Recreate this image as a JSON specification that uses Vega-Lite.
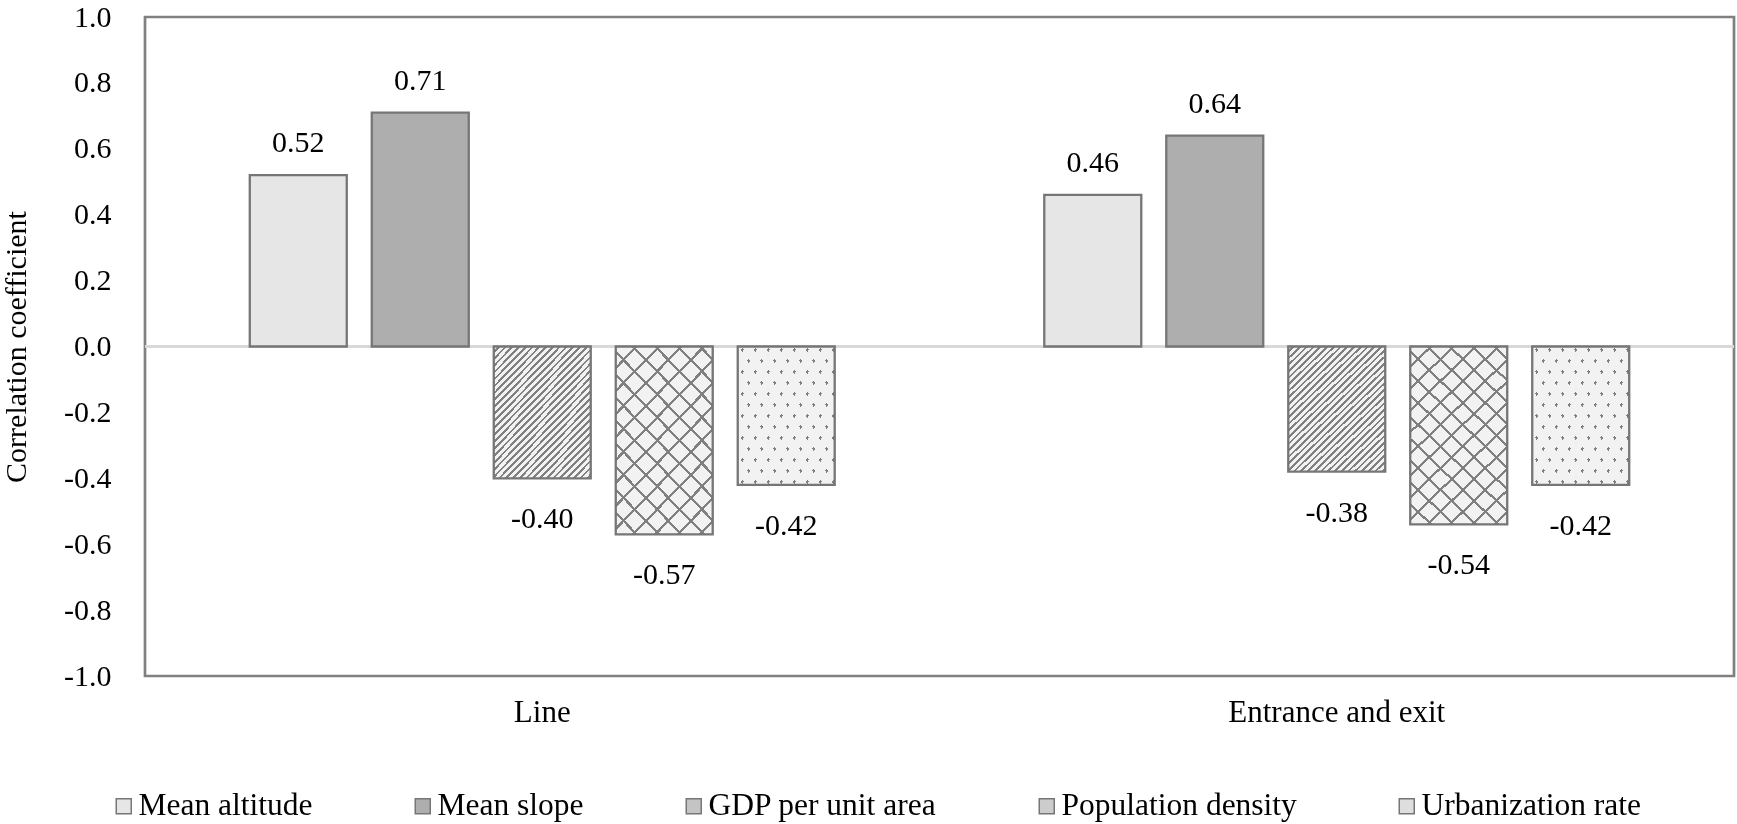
{
 "$schema": "https://vega.github.io/schema/vega-lite/v6.json",
 "width": 1589,
 "height": 659,
 "autosize": {"type": "none"},
 "padding": {"left": 145, "top": 17, "right": 3, "bottom": 148},
 "background": "white",
 "config": {
  "font": "Liberation Serif",
  "view": {"stroke": "#808080", "strokeWidth": 2.7},
  "locale": {"number": {"decimal": ".", "thousands": ",", "grouping": [3], "currency": ["$", ""], "minus": "-"}},
  "axis": {"labelFont": "Liberation Serif", "titleFont": "Liberation Serif", "labelColor": "#000000", "titleColor": "#000000"},
  "legend": {"labelFont": "Liberation Serif", "labelColor": "#000000"}
 },
 "data": {"values": [
  {"group": "Line", "measure": "Mean altitude", "value": 0.52},
  {"group": "Line", "measure": "Mean slope", "value": 0.71},
  {"group": "Line", "measure": "GDP per unit area", "value": -0.40},
  {"group": "Line", "measure": "Population density", "value": -0.57},
  {"group": "Line", "measure": "Urbanization rate", "value": -0.42},
  {"group": "Entrance and exit", "measure": "Mean altitude", "value": 0.46},
  {"group": "Entrance and exit", "measure": "Mean slope", "value": 0.64},
  {"group": "Entrance and exit", "measure": "GDP per unit area", "value": -0.38},
  {"group": "Entrance and exit", "measure": "Population density", "value": -0.54},
  {"group": "Entrance and exit", "measure": "Urbanization rate", "value": -0.42}
 ]},
 "layer": [
  {
   "mark": {"type": "rule", "color": "#d9d9d9", "strokeWidth": 2.5},
   "encoding": {"y": {"datum": 0, "type": "quantitative", "scale": {"domain": [-1, 1], "nice": false}}}
  },
  {
   "encoding": {
    "x": {"field": "group", "type": "nominal", "scale": {"domain": ["Line", "Entrance and exit"], "paddingInner": 0, "paddingOuter": 0},
     "axis": {"title": null, "labelAngle": 0, "labelFontSize": 31, "labelPadding": 21, "labelLimit": 0, "ticks": false, "tickSize": 0, "domain": false, "labelColor": "#000000"}},
    "xOffset": {"field": "measure", "type": "nominal", "scale": {"domain": ["Mean altitude", "Mean slope", "GDP per unit area", "Population density", "Urbanization rate"], "paddingInner": 0.205, "paddingOuter": 0.859}},
    "y": {"field": "value", "type": "quantitative", "scale": {"domain": [-1, 1], "nice": false},
     "axis": {"title": "Correlation coefficient", "values": [-1, -0.8, -0.6, -0.4, -0.2, 0, 0.2, 0.4, 0.6, 0.8, 1], "format": ".1f", "grid": false, "domain": false, "ticks": false, "tickSize": 0, "labelPadding": 34, "labelFontSize": 30, "titleFontSize": 30, "titleFontWeight": "normal", "titleX": -120, "titleY": 329.5, "titleAngle": -90, "titleBaseline": "alphabetic", "titleAlign": "center"}}
   },
   "layer": [
    {
     "mark": {"type": "bar"},
     "encoding": {"color": {"field": "measure", "type": "nominal",
      "scale": {"domain": ["Mean altitude", "Mean slope", "GDP per unit area", "Population density", "Urbanization rate"], "range": ["#e6e6e6", "#aeaeae", "#c4c4c4", "#cccccc", "#dedede"]},
      "legend": {"orient": "none", "legendX": -37, "legendY": 773, "direction": "horizontal", "columns": 5, "title": null, "symbolType": "square", "symbolSize": 225, "symbolStrokeColor": "#767676", "symbolStrokeWidth": 1.5, "labelFontSize": 31.5, "labelOffset": -1, "labelLimit": 0, "columnPadding": 94, "padding": 0, "symbolOpacity": 1}}}
    },
    {
     "transform": [{"filter": "datum.measure === 'GDP per unit area'"}],
     "mark": {"type": "bar", "fill": {"gradient": "linear", "x1": 0, "y1": 0, "x2": 0.8437, "y2": 1.1179, "stops": [
      {"offset": 0, "color": "#f2f2f2"},
      {"offset": 0.018, "color": "#f2f2f2"}, {"offset": 0.018, "color": "#808080"}, {"offset": 0.03, "color": "#808080"}, {"offset": 0.03, "color": "#f2f2f2"},
      {"offset": 0.048, "color": "#f2f2f2"}, {"offset": 0.048, "color": "#808080"}, {"offset": 0.06, "color": "#808080"}, {"offset": 0.06, "color": "#f2f2f2"},
      {"offset": 0.078, "color": "#f2f2f2"}, {"offset": 0.078, "color": "#808080"}, {"offset": 0.09, "color": "#808080"}, {"offset": 0.09, "color": "#f2f2f2"},
      {"offset": 0.108, "color": "#f2f2f2"}, {"offset": 0.108, "color": "#808080"}, {"offset": 0.12, "color": "#808080"}, {"offset": 0.12, "color": "#f2f2f2"},
      {"offset": 0.138, "color": "#f2f2f2"}, {"offset": 0.138, "color": "#808080"}, {"offset": 0.15, "color": "#808080"}, {"offset": 0.15, "color": "#f2f2f2"},
      {"offset": 0.168, "color": "#f2f2f2"}, {"offset": 0.168, "color": "#808080"}, {"offset": 0.18, "color": "#808080"}, {"offset": 0.18, "color": "#f2f2f2"},
      {"offset": 0.198, "color": "#f2f2f2"}, {"offset": 0.198, "color": "#808080"}, {"offset": 0.21, "color": "#808080"}, {"offset": 0.21, "color": "#f2f2f2"},
      {"offset": 0.228, "color": "#f2f2f2"}, {"offset": 0.228, "color": "#808080"}, {"offset": 0.24, "color": "#808080"}, {"offset": 0.24, "color": "#f2f2f2"},
      {"offset": 0.258, "color": "#f2f2f2"}, {"offset": 0.258, "color": "#808080"}, {"offset": 0.27, "color": "#808080"}, {"offset": 0.27, "color": "#f2f2f2"},
      {"offset": 0.288, "color": "#f2f2f2"}, {"offset": 0.288, "color": "#808080"}, {"offset": 0.30, "color": "#808080"}, {"offset": 0.30, "color": "#f2f2f2"},
      {"offset": 0.318, "color": "#f2f2f2"}, {"offset": 0.318, "color": "#808080"}, {"offset": 0.33, "color": "#808080"}, {"offset": 0.33, "color": "#f2f2f2"},
      {"offset": 0.348, "color": "#f2f2f2"}, {"offset": 0.348, "color": "#808080"}, {"offset": 0.36, "color": "#808080"}, {"offset": 0.36, "color": "#f2f2f2"},
      {"offset": 0.378, "color": "#f2f2f2"}, {"offset": 0.378, "color": "#808080"}, {"offset": 0.39, "color": "#808080"}, {"offset": 0.39, "color": "#f2f2f2"},
      {"offset": 0.408, "color": "#f2f2f2"}, {"offset": 0.408, "color": "#808080"}, {"offset": 0.42, "color": "#808080"}, {"offset": 0.42, "color": "#f2f2f2"},
      {"offset": 0.438, "color": "#f2f2f2"}, {"offset": 0.438, "color": "#808080"}, {"offset": 0.45, "color": "#808080"}, {"offset": 0.45, "color": "#f2f2f2"},
      {"offset": 0.468, "color": "#f2f2f2"}, {"offset": 0.468, "color": "#808080"}, {"offset": 0.48, "color": "#808080"}, {"offset": 0.48, "color": "#f2f2f2"},
      {"offset": 0.498, "color": "#f2f2f2"}, {"offset": 0.498, "color": "#808080"}, {"offset": 0.51, "color": "#808080"}, {"offset": 0.51, "color": "#f2f2f2"},
      {"offset": 0.528, "color": "#f2f2f2"}, {"offset": 0.528, "color": "#808080"}, {"offset": 0.54, "color": "#808080"}, {"offset": 0.54, "color": "#f2f2f2"},
      {"offset": 0.558, "color": "#f2f2f2"}, {"offset": 0.558, "color": "#808080"}, {"offset": 0.57, "color": "#808080"}, {"offset": 0.57, "color": "#f2f2f2"},
      {"offset": 0.588, "color": "#f2f2f2"}, {"offset": 0.588, "color": "#808080"}, {"offset": 0.60, "color": "#808080"}, {"offset": 0.60, "color": "#f2f2f2"},
      {"offset": 0.618, "color": "#f2f2f2"}, {"offset": 0.618, "color": "#808080"}, {"offset": 0.63, "color": "#808080"}, {"offset": 0.63, "color": "#f2f2f2"},
      {"offset": 0.648, "color": "#f2f2f2"}, {"offset": 0.648, "color": "#808080"}, {"offset": 0.66, "color": "#808080"}, {"offset": 0.66, "color": "#f2f2f2"},
      {"offset": 0.678, "color": "#f2f2f2"}, {"offset": 0.678, "color": "#808080"}, {"offset": 0.69, "color": "#808080"}, {"offset": 0.69, "color": "#f2f2f2"},
      {"offset": 0.708, "color": "#f2f2f2"}, {"offset": 0.708, "color": "#808080"}, {"offset": 0.72, "color": "#808080"}, {"offset": 0.72, "color": "#f2f2f2"},
      {"offset": 0.738, "color": "#f2f2f2"}, {"offset": 0.738, "color": "#808080"}, {"offset": 0.75, "color": "#808080"}, {"offset": 0.75, "color": "#f2f2f2"},
      {"offset": 0.768, "color": "#f2f2f2"}, {"offset": 0.768, "color": "#808080"}, {"offset": 0.78, "color": "#808080"}, {"offset": 0.78, "color": "#f2f2f2"},
      {"offset": 0.798, "color": "#f2f2f2"}, {"offset": 0.798, "color": "#808080"}, {"offset": 0.81, "color": "#808080"}, {"offset": 0.81, "color": "#f2f2f2"},
      {"offset": 0.828, "color": "#f2f2f2"}, {"offset": 0.828, "color": "#808080"}, {"offset": 0.84, "color": "#808080"}, {"offset": 0.84, "color": "#f2f2f2"},
      {"offset": 0.858, "color": "#f2f2f2"}, {"offset": 0.858, "color": "#808080"}, {"offset": 0.87, "color": "#808080"}, {"offset": 0.87, "color": "#f2f2f2"},
      {"offset": 0.888, "color": "#f2f2f2"}, {"offset": 0.888, "color": "#808080"}, {"offset": 0.90, "color": "#808080"}, {"offset": 0.90, "color": "#f2f2f2"},
      {"offset": 0.918, "color": "#f2f2f2"}, {"offset": 0.918, "color": "#808080"}, {"offset": 0.93, "color": "#808080"}, {"offset": 0.93, "color": "#f2f2f2"},
      {"offset": 0.948, "color": "#f2f2f2"}, {"offset": 0.948, "color": "#808080"}, {"offset": 0.96, "color": "#808080"}, {"offset": 0.96, "color": "#f2f2f2"},
      {"offset": 0.978, "color": "#f2f2f2"}, {"offset": 0.978, "color": "#808080"}, {"offset": 0.99, "color": "#808080"}, {"offset": 0.99, "color": "#f2f2f2"},
      {"offset": 1, "color": "#f2f2f2"}
     ]}}
    },
    {
     "transform": [{"filter": "datum.measure === 'Population density'"}],
     "mark": {"type": "bar", "fill": {"gradient": "linear", "x1": 0, "y1": 0, "x2": 0.633, "y2": 1.195, "stops": [
      {"offset": 0, "color": "#f2f2f2"},
      {"offset": 0.069, "color": "#f2f2f2"}, {"offset": 0.069, "color": "#808080"}, {"offset": 0.08, "color": "#808080"}, {"offset": 0.08, "color": "#f2f2f2"},
      {"offset": 0.149, "color": "#f2f2f2"}, {"offset": 0.149, "color": "#808080"}, {"offset": 0.16, "color": "#808080"}, {"offset": 0.16, "color": "#f2f2f2"},
      {"offset": 0.229, "color": "#f2f2f2"}, {"offset": 0.229, "color": "#808080"}, {"offset": 0.24, "color": "#808080"}, {"offset": 0.24, "color": "#f2f2f2"},
      {"offset": 0.309, "color": "#f2f2f2"}, {"offset": 0.309, "color": "#808080"}, {"offset": 0.32, "color": "#808080"}, {"offset": 0.32, "color": "#f2f2f2"},
      {"offset": 0.389, "color": "#f2f2f2"}, {"offset": 0.389, "color": "#808080"}, {"offset": 0.40, "color": "#808080"}, {"offset": 0.40, "color": "#f2f2f2"},
      {"offset": 0.469, "color": "#f2f2f2"}, {"offset": 0.469, "color": "#808080"}, {"offset": 0.48, "color": "#808080"}, {"offset": 0.48, "color": "#f2f2f2"},
      {"offset": 0.549, "color": "#f2f2f2"}, {"offset": 0.549, "color": "#808080"}, {"offset": 0.56, "color": "#808080"}, {"offset": 0.56, "color": "#f2f2f2"},
      {"offset": 0.629, "color": "#f2f2f2"}, {"offset": 0.629, "color": "#808080"}, {"offset": 0.64, "color": "#808080"}, {"offset": 0.64, "color": "#f2f2f2"},
      {"offset": 0.709, "color": "#f2f2f2"}, {"offset": 0.709, "color": "#808080"}, {"offset": 0.72, "color": "#808080"}, {"offset": 0.72, "color": "#f2f2f2"},
      {"offset": 0.789, "color": "#f2f2f2"}, {"offset": 0.789, "color": "#808080"}, {"offset": 0.80, "color": "#808080"}, {"offset": 0.80, "color": "#f2f2f2"},
      {"offset": 0.869, "color": "#f2f2f2"}, {"offset": 0.869, "color": "#808080"}, {"offset": 0.88, "color": "#808080"}, {"offset": 0.88, "color": "#f2f2f2"},
      {"offset": 0.949, "color": "#f2f2f2"}, {"offset": 0.949, "color": "#808080"}, {"offset": 0.96, "color": "#808080"}, {"offset": 0.96, "color": "#f2f2f2"},
      {"offset": 1, "color": "#f2f2f2"}
     ]}}
    },
    {
     "transform": [{"filter": "datum.measure === 'Population density'"}],
     "mark": {"type": "bar", "fill": {"gradient": "linear", "x1": 0, "y1": 1, "x2": 0.633, "y2": -0.195, "stops": [
      {"offset": 0, "color": "rgba(242,242,242,0)"},
      {"offset": 0.069, "color": "rgba(242,242,242,0)"}, {"offset": 0.069, "color": "#808080"}, {"offset": 0.08, "color": "#808080"}, {"offset": 0.08, "color": "rgba(242,242,242,0)"},
      {"offset": 0.149, "color": "rgba(242,242,242,0)"}, {"offset": 0.149, "color": "#808080"}, {"offset": 0.16, "color": "#808080"}, {"offset": 0.16, "color": "rgba(242,242,242,0)"},
      {"offset": 0.229, "color": "rgba(242,242,242,0)"}, {"offset": 0.229, "color": "#808080"}, {"offset": 0.24, "color": "#808080"}, {"offset": 0.24, "color": "rgba(242,242,242,0)"},
      {"offset": 0.309, "color": "rgba(242,242,242,0)"}, {"offset": 0.309, "color": "#808080"}, {"offset": 0.32, "color": "#808080"}, {"offset": 0.32, "color": "rgba(242,242,242,0)"},
      {"offset": 0.389, "color": "rgba(242,242,242,0)"}, {"offset": 0.389, "color": "#808080"}, {"offset": 0.40, "color": "#808080"}, {"offset": 0.40, "color": "rgba(242,242,242,0)"},
      {"offset": 0.469, "color": "rgba(242,242,242,0)"}, {"offset": 0.469, "color": "#808080"}, {"offset": 0.48, "color": "#808080"}, {"offset": 0.48, "color": "rgba(242,242,242,0)"},
      {"offset": 0.549, "color": "rgba(242,242,242,0)"}, {"offset": 0.549, "color": "#808080"}, {"offset": 0.56, "color": "#808080"}, {"offset": 0.56, "color": "rgba(242,242,242,0)"},
      {"offset": 0.629, "color": "rgba(242,242,242,0)"}, {"offset": 0.629, "color": "#808080"}, {"offset": 0.64, "color": "#808080"}, {"offset": 0.64, "color": "rgba(242,242,242,0)"},
      {"offset": 0.709, "color": "rgba(242,242,242,0)"}, {"offset": 0.709, "color": "#808080"}, {"offset": 0.72, "color": "#808080"}, {"offset": 0.72, "color": "rgba(242,242,242,0)"},
      {"offset": 0.789, "color": "rgba(242,242,242,0)"}, {"offset": 0.789, "color": "#808080"}, {"offset": 0.80, "color": "#808080"}, {"offset": 0.80, "color": "rgba(242,242,242,0)"},
      {"offset": 0.869, "color": "rgba(242,242,242,0)"}, {"offset": 0.869, "color": "#808080"}, {"offset": 0.88, "color": "#808080"}, {"offset": 0.88, "color": "rgba(242,242,242,0)"},
      {"offset": 0.949, "color": "rgba(242,242,242,0)"}, {"offset": 0.949, "color": "#808080"}, {"offset": 0.96, "color": "#808080"}, {"offset": 0.96, "color": "rgba(242,242,242,0)"},
      {"offset": 1, "color": "rgba(242,242,242,0)"}
     ]}}
    },
    {
     "transform": [{"filter": "datum.measure === 'Urbanization rate'"}],
     "mark": {"type": "bar", "fill": {"gradient": "linear", "x1": 0, "y1": 0, "x2": 1.0775, "y2": 0.9085, "stops": [
      {"offset": 0, "color": "#f2f2f2"},
      {"offset": 0.028, "color": "#f2f2f2"}, {"offset": 0.028, "color": "#808080"}, {"offset": 0.0436, "color": "#808080"}, {"offset": 0.0436, "color": "#f2f2f2"},
      {"offset": 0.1007, "color": "#f2f2f2"}, {"offset": 0.1007, "color": "#808080"}, {"offset": 0.1163, "color": "#808080"}, {"offset": 0.1163, "color": "#f2f2f2"},
      {"offset": 0.1734, "color": "#f2f2f2"}, {"offset": 0.1734, "color": "#808080"}, {"offset": 0.189, "color": "#808080"}, {"offset": 0.189, "color": "#f2f2f2"},
      {"offset": 0.2461, "color": "#f2f2f2"}, {"offset": 0.2461, "color": "#808080"}, {"offset": 0.2617, "color": "#808080"}, {"offset": 0.2617, "color": "#f2f2f2"},
      {"offset": 0.3188, "color": "#f2f2f2"}, {"offset": 0.3188, "color": "#808080"}, {"offset": 0.3344, "color": "#808080"}, {"offset": 0.3344, "color": "#f2f2f2"},
      {"offset": 0.3915, "color": "#f2f2f2"}, {"offset": 0.3915, "color": "#808080"}, {"offset": 0.4071, "color": "#808080"}, {"offset": 0.4071, "color": "#f2f2f2"},
      {"offset": 0.4642, "color": "#f2f2f2"}, {"offset": 0.4642, "color": "#808080"}, {"offset": 0.4798, "color": "#808080"}, {"offset": 0.4798, "color": "#f2f2f2"},
      {"offset": 0.5369, "color": "#f2f2f2"}, {"offset": 0.5369, "color": "#808080"}, {"offset": 0.5525, "color": "#808080"}, {"offset": 0.5525, "color": "#f2f2f2"},
      {"offset": 0.6096, "color": "#f2f2f2"}, {"offset": 0.6096, "color": "#808080"}, {"offset": 0.6252, "color": "#808080"}, {"offset": 0.6252, "color": "#f2f2f2"},
      {"offset": 0.6823, "color": "#f2f2f2"}, {"offset": 0.6823, "color": "#808080"}, {"offset": 0.6979, "color": "#808080"}, {"offset": 0.6979, "color": "#f2f2f2"},
      {"offset": 0.755, "color": "#f2f2f2"}, {"offset": 0.755, "color": "#808080"}, {"offset": 0.7706, "color": "#808080"}, {"offset": 0.7706, "color": "#f2f2f2"},
      {"offset": 0.8277, "color": "#f2f2f2"}, {"offset": 0.8277, "color": "#808080"}, {"offset": 0.8433, "color": "#808080"}, {"offset": 0.8433, "color": "#f2f2f2"},
      {"offset": 0.9004, "color": "#f2f2f2"}, {"offset": 0.9004, "color": "#808080"}, {"offset": 0.916, "color": "#808080"}, {"offset": 0.916, "color": "#f2f2f2"},
      {"offset": 0.9731, "color": "#f2f2f2"}, {"offset": 0.9731, "color": "#808080"}, {"offset": 0.9887, "color": "#808080"}, {"offset": 0.9887, "color": "#f2f2f2"},
      {"offset": 1, "color": "#f2f2f2"}
     ]}}
    },
    {
     "transform": [{"filter": "datum.measure === 'Urbanization rate'"}],
     "mark": {"type": "bar", "blend": "lighten", "fill": {"gradient": "linear", "x1": 0, "y1": 1, "x2": 1.0775, "y2": 0.0915, "stops": [
      {"offset": 0, "color": "#f2f2f2"},
      {"offset": 0.028, "color": "#f2f2f2"}, {"offset": 0.028, "color": "#808080"}, {"offset": 0.0436, "color": "#808080"}, {"offset": 0.0436, "color": "#f2f2f2"},
      {"offset": 0.1007, "color": "#f2f2f2"}, {"offset": 0.1007, "color": "#808080"}, {"offset": 0.1163, "color": "#808080"}, {"offset": 0.1163, "color": "#f2f2f2"},
      {"offset": 0.1734, "color": "#f2f2f2"}, {"offset": 0.1734, "color": "#808080"}, {"offset": 0.189, "color": "#808080"}, {"offset": 0.189, "color": "#f2f2f2"},
      {"offset": 0.2461, "color": "#f2f2f2"}, {"offset": 0.2461, "color": "#808080"}, {"offset": 0.2617, "color": "#808080"}, {"offset": 0.2617, "color": "#f2f2f2"},
      {"offset": 0.3188, "color": "#f2f2f2"}, {"offset": 0.3188, "color": "#808080"}, {"offset": 0.3344, "color": "#808080"}, {"offset": 0.3344, "color": "#f2f2f2"},
      {"offset": 0.3915, "color": "#f2f2f2"}, {"offset": 0.3915, "color": "#808080"}, {"offset": 0.4071, "color": "#808080"}, {"offset": 0.4071, "color": "#f2f2f2"},
      {"offset": 0.4642, "color": "#f2f2f2"}, {"offset": 0.4642, "color": "#808080"}, {"offset": 0.4798, "color": "#808080"}, {"offset": 0.4798, "color": "#f2f2f2"},
      {"offset": 0.5369, "color": "#f2f2f2"}, {"offset": 0.5369, "color": "#808080"}, {"offset": 0.5525, "color": "#808080"}, {"offset": 0.5525, "color": "#f2f2f2"},
      {"offset": 0.6096, "color": "#f2f2f2"}, {"offset": 0.6096, "color": "#808080"}, {"offset": 0.6252, "color": "#808080"}, {"offset": 0.6252, "color": "#f2f2f2"},
      {"offset": 0.6823, "color": "#f2f2f2"}, {"offset": 0.6823, "color": "#808080"}, {"offset": 0.6979, "color": "#808080"}, {"offset": 0.6979, "color": "#f2f2f2"},
      {"offset": 0.755, "color": "#f2f2f2"}, {"offset": 0.755, "color": "#808080"}, {"offset": 0.7706, "color": "#808080"}, {"offset": 0.7706, "color": "#f2f2f2"},
      {"offset": 0.8277, "color": "#f2f2f2"}, {"offset": 0.8277, "color": "#808080"}, {"offset": 0.8433, "color": "#808080"}, {"offset": 0.8433, "color": "#f2f2f2"},
      {"offset": 0.9004, "color": "#f2f2f2"}, {"offset": 0.9004, "color": "#808080"}, {"offset": 0.916, "color": "#808080"}, {"offset": 0.916, "color": "#f2f2f2"},
      {"offset": 0.9731, "color": "#f2f2f2"}, {"offset": 0.9731, "color": "#808080"}, {"offset": 0.9887, "color": "#808080"}, {"offset": 0.9887, "color": "#f2f2f2"},
      {"offset": 1, "color": "#f2f2f2"}
     ]}}
    },
    {
     "mark": {"type": "bar", "fillOpacity": 0, "stroke": "#767676", "strokeWidth": 2.3}
    },
    {
     "transform": [{"filter": "datum.value > 0"}],
     "mark": {"type": "text", "fontSize": 30, "font": "Liberation Serif", "baseline": "alphabetic", "dy": -23, "color": "#000000"},
     "encoding": {"text": {"field": "value", "type": "quantitative", "format": ".2f"}}
    },
    {
     "transform": [{"filter": "datum.value < 0"}],
     "mark": {"type": "text", "fontSize": 30, "font": "Liberation Serif", "baseline": "alphabetic", "dy": 50, "color": "#000000"},
     "encoding": {"text": {"field": "value", "type": "quantitative", "format": ".2f"}}
    }
   ]
  }
 ]
}
